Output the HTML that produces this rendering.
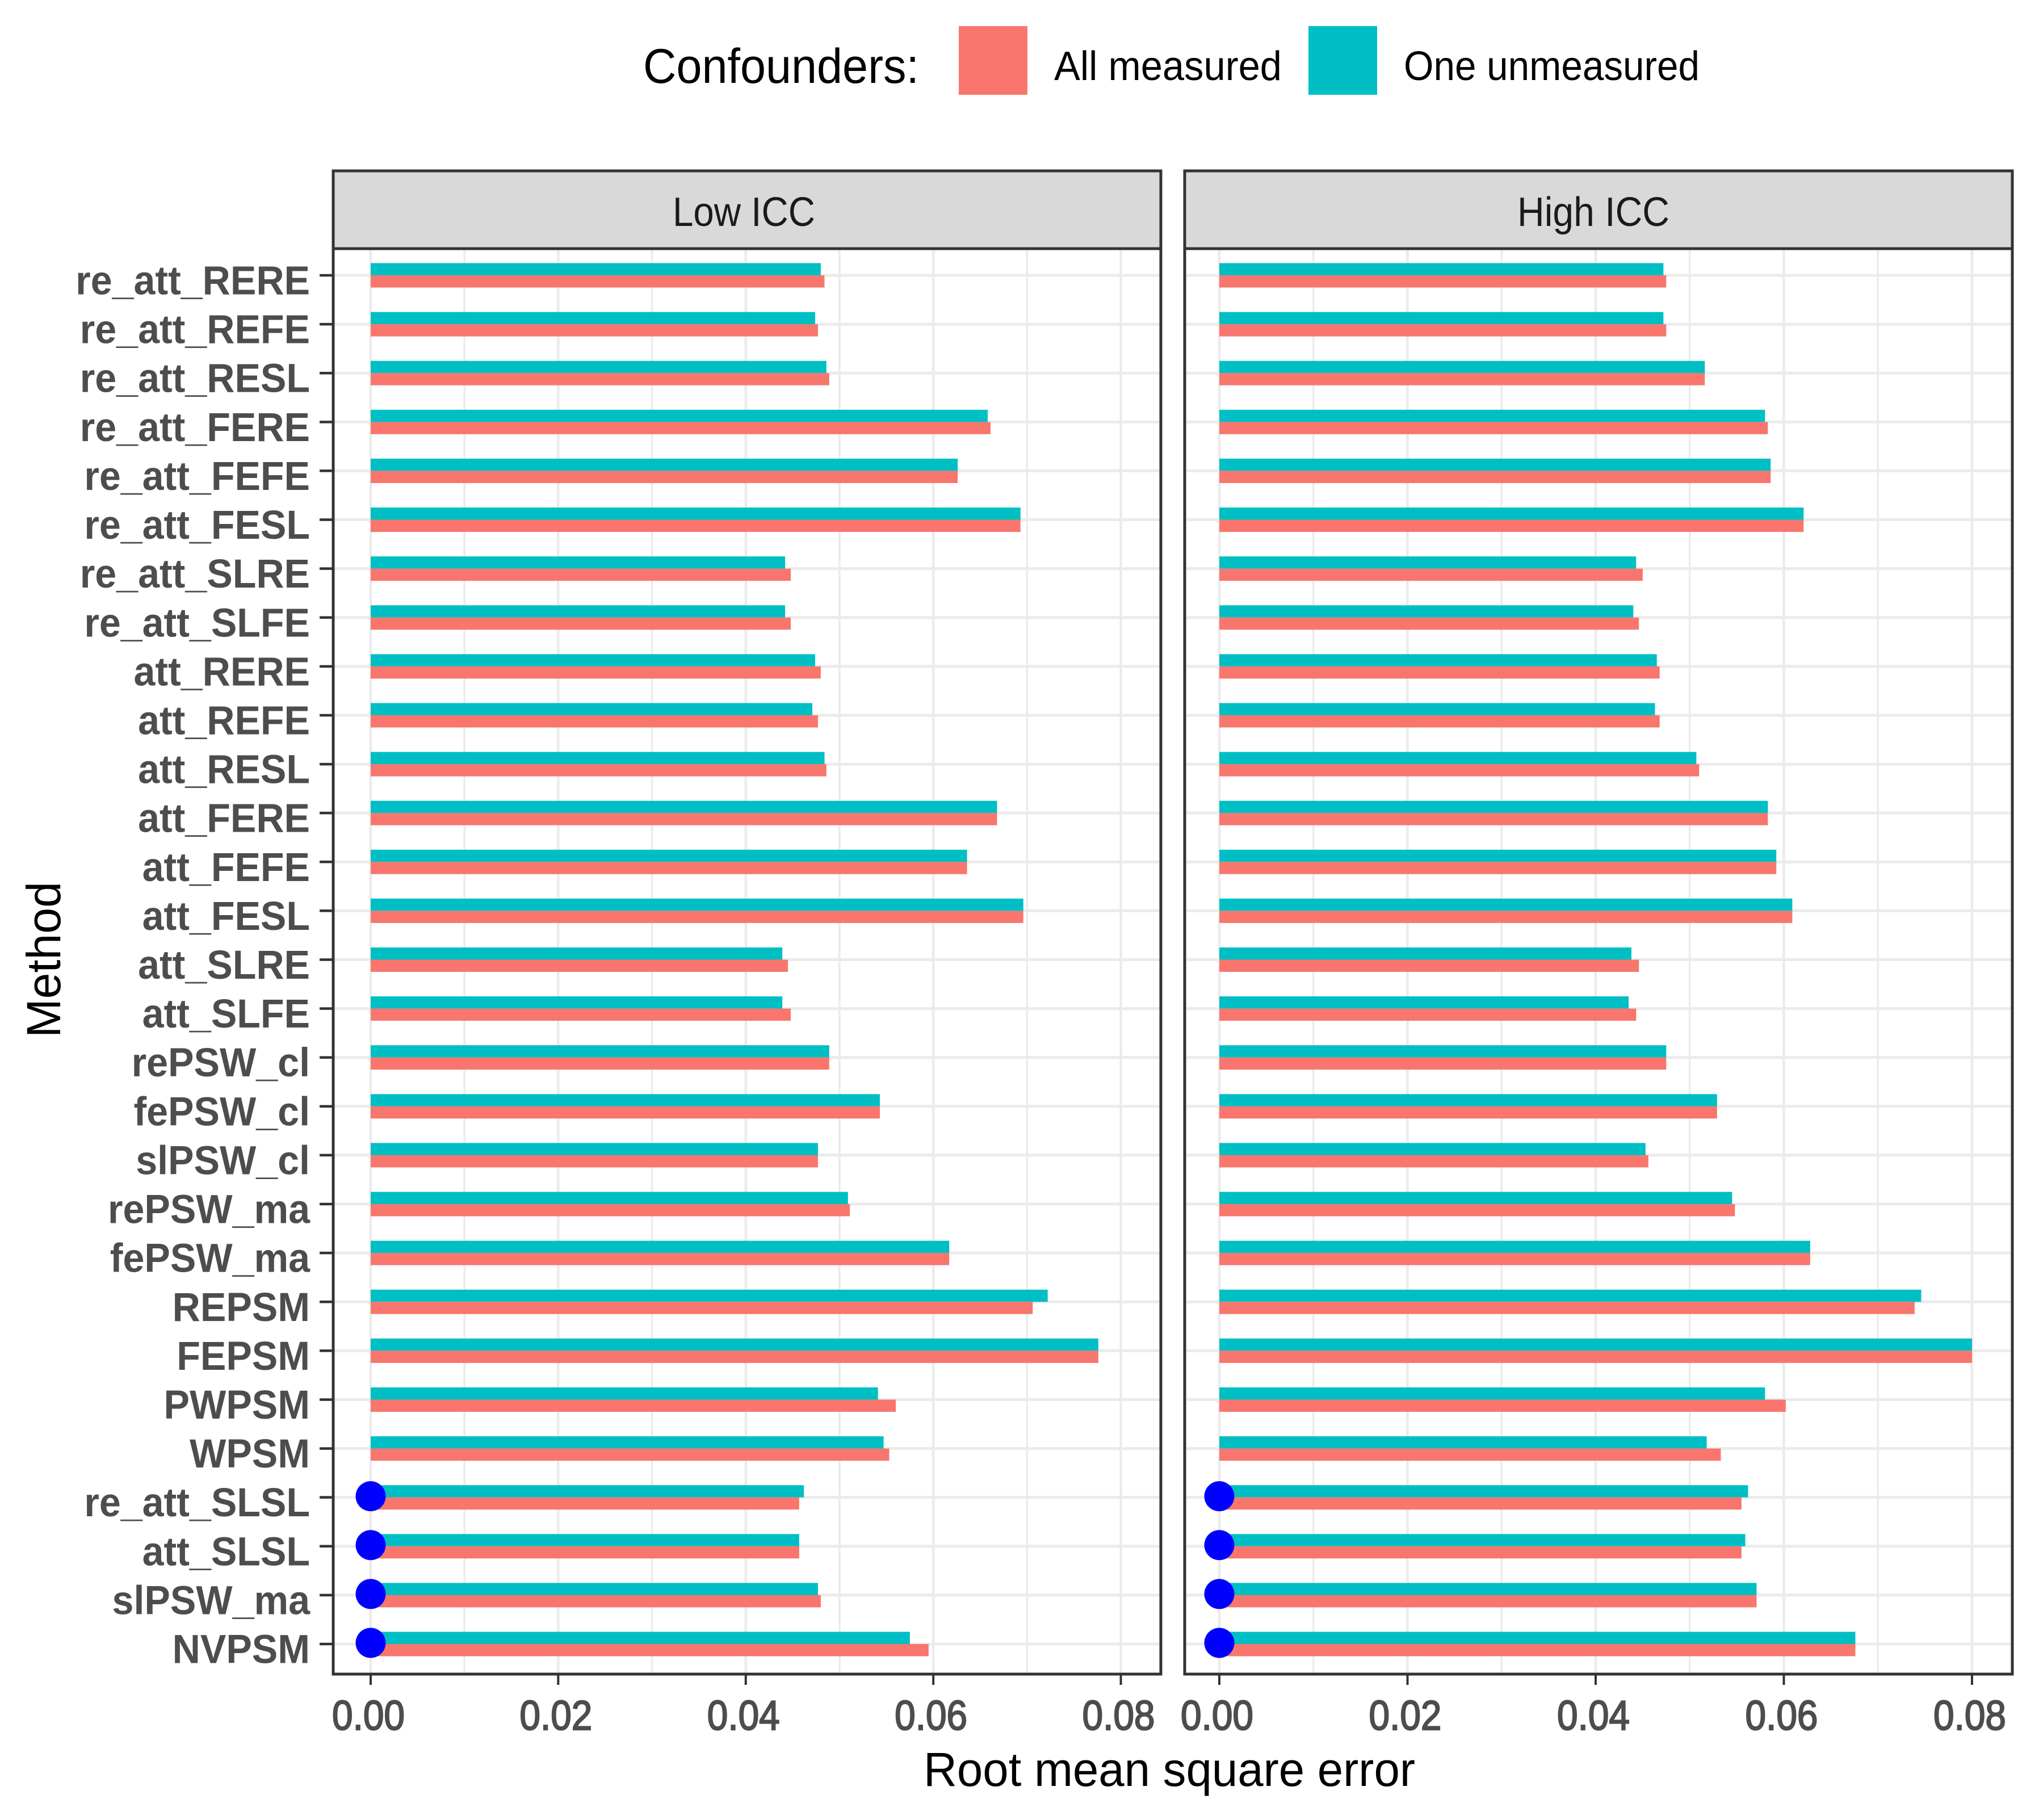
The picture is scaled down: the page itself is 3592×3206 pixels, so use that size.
<!DOCTYPE html>
<html>
<head>
<meta charset="utf-8">
<title>Root mean square error by method</title>
<style>
html,body{margin:0;padding:0;background:#fff;}
svg{display:block;}
text{font-family:"Liberation Sans",sans-serif;}
</style>
</head>
<body>
<svg id="chart" xmlns="http://www.w3.org/2000/svg" width="3592" height="3206" viewBox="0 0 3592 3206">
  <rect x="0" y="0" width="3592" height="3206" fill="#ffffff"/>
  <g>
    <text x="1133" y="146" font-size="86" fill="#000" textLength="486" lengthAdjust="spacingAndGlyphs">Confounders:</text>
    <rect x="1689" y="46" width="121" height="121" fill="#F8766D"/>
    <text x="1857" y="141" font-size="72" fill="#000" textLength="401" lengthAdjust="spacingAndGlyphs">All measured</text>
    <rect x="2305" y="46" width="121" height="121" fill="#00BFC4"/>
    <text x="2473" y="141" font-size="72" fill="#000" textLength="521" lengthAdjust="spacingAndGlyphs">One unmeasured</text>
  </g>
  <g id="panels"></g>
  <text x="1627" y="3146" font-size="84" fill="#000" textLength="866" lengthAdjust="spacingAndGlyphs">Root mean square error</text>
  <text transform="translate(106,1828) rotate(-90)" font-size="84" fill="#000" textLength="275" lengthAdjust="spacingAndGlyphs">Method</text>
</svg>
<script>
var categories = ["re_att_RERE","re_att_REFE","re_att_RESL","re_att_FERE","re_att_FEFE","re_att_FESL","re_att_SLRE","re_att_SLFE","att_RERE","att_REFE","att_RESL","att_FERE","att_FEFE","att_FESL","att_SLRE","att_SLFE","rePSW_cl","fePSW_cl","slPSW_cl","rePSW_ma","fePSW_ma","REPSM","FEPSM","PWPSM","WPSM","re_att_SLSL","att_SLSL","slPSW_ma","NVPSM"];
var lowOneUnmeasured = [.0480,.0474,.0486,.0658,.0626,.0693,.0442,.0442,.0474,.0471,.0484,.0668,.0636,.0696,.0439,.0439,.0489,.0543,.0477,.0509,.0617,.0722,.0776,.0541,.0547,.0462,.0457,.0477,.0575];
var lowAllMeasured = [.0484,.0477,.0489,.0661,.0626,.0693,.0448,.0448,.0480,.0477,.0486,.0668,.0636,.0696,.0445,.0448,.0489,.0543,.0477,.0511,.0617,.0706,.0776,.0560,.0553,.0457,.0457,.0480,.0595];
var highOneUnmeasured = [.0472,.0472,.0516,.0580,.0586,.0621,.0443,.0440,.0465,.0463,.0507,.0583,.0592,.0609,.0438,.0435,.0475,.0529,.0453,.0545,.0628,.0746,.0800,.0580,.0518,.0562,.0559,.0571,.0676];
var highAllMeasured = [.0475,.0475,.0516,.0583,.0586,.0621,.0450,.0446,.0468,.0468,.0510,.0583,.0592,.0609,.0446,.0443,.0475,.0529,.0456,.0548,.0628,.0739,.0800,.0602,.0533,.0555,.0555,.0571,.0676];
var markerCategories = ["re_att_SLSL","att_SLSL","slPSW_ma","NVPSM"];
var markerValues = [0,0,0,0];
var xTicks = [0,0.02,0.04,0.06,0.08];
var xTickLabels = ["0.00","0.02","0.04","0.06","0.08"];
var xMinorTicks = [0.01,0.03,0.05,0.07];
var panelTitles = ["Low ICC","High ICC"];

var NS = "http://www.w3.org/2000/svg";
var root = document.getElementById("panels");
var TOP_STRIP = 301, STRIP_BOTTOM = 438, PANEL_BOTTOM = 2949;
var ROW_FIRST = 485, ROW_STEP = (2896 - 485) / (categories.length - 1), BAR_H = 21.5;

function yScale(i){ return ROW_FIRST + ROW_STEP * i; }
function mk(tag, attrs, parent){
  var e = document.createElementNS(NS, tag);
  for (var k in attrs) e.setAttribute(k, attrs[k]);
  parent.appendChild(e);
  return e;
}

function drawPanel(key, left, right, x0, xUnit, teal, red, titleX, titleLen){
  function xScale(v){ return x0 + v * xUnit; }
  var g = mk("g", {}, root);
  
  

  xMinorTicks.forEach(function(v){
    var l = mk("line", {x1:xScale(v), x2:xScale(v), y1:STRIP_BOTTOM, y2:PANEL_BOTTOM, stroke:"#ebebeb", "stroke-width":3.5}, g);
    
    
  });
  xTicks.forEach(function(v){
    var l = mk("line", {x1:xScale(v), x2:xScale(v), y1:STRIP_BOTTOM, y2:PANEL_BOTTOM, stroke:"#ebebeb", "stroke-width":4.5}, g);
    
    
  });
  categories.forEach(function(c, i){
    var l = mk("line", {x1:left, x2:right, y1:yScale(i), y2:yScale(i), stroke:"#ebebeb", "stroke-width":5}, g);
    
    
  });

  categories.forEach(function(c, i){
    var y = yScale(i);
    var t = mk("rect", {x:xScale(0), y:y - BAR_H, width:xScale(teal[i]) - xScale(0), height:BAR_H, fill:"#00BFC4"}, g);
    
    
    var r = mk("rect", {x:xScale(0), y:y, width:xScale(red[i]) - xScale(0), height:BAR_H, fill:"#F8766D"}, g);
    
    
  });

  markerCategories.forEach(function(c, j){
    var i = categories.indexOf(c);
    var p = mk("circle", {cx:xScale(markerValues[j]), cy:yScale(i) - 2, r:26.5, fill:"#0000ff"}, g);
    
    
  });

  var border = mk("rect", {x:left, y:STRIP_BOTTOM, width:right - left, height:PANEL_BOTTOM - STRIP_BOTTOM, fill:"none", stroke:"#333333", "stroke-width":5}, g);
  
  

  var strip = mk("rect", {x:left, y:TOP_STRIP, width:right - left, height:STRIP_BOTTOM - TOP_STRIP, fill:"#d9d9d9", stroke:"#333333", "stroke-width":5}, g);
  
  

  var st = mk("text", {x:titleX, y:398, "font-size":72, fill:"#1a1a1a", textLength:titleLen, lengthAdjust:"spacingAndGlyphs"}, g);
  st.textContent = key === "low" ? panelTitles[0] : panelTitles[1];
  
  

  xTicks.forEach(function(v, k){
    var tk = mk("line", {x1:xScale(v), x2:xScale(v), y1:PANEL_BOTTOM, y2:PANEL_BOTTOM + 19, stroke:"#333333", "stroke-width":4}, g);
    
    
    var lb = mk("text", {x:xScale(v) - 68, y:3047, "font-size":73, fill:"#4d4d4d", stroke:"#4d4d4d", "stroke-width":2.2, textLength:128, lengthAdjust:"spacingAndGlyphs"}, g);
    lb.textContent = xTickLabels[k];
    
    
  });
}

drawPanel("low", 587, 2045, 653, 16519, lowOneUnmeasured, lowAllMeasured, 1185, 251);
drawPanel("high", 2087, 3545, 2148, 16575, highOneUnmeasured, highAllMeasured, 2673, 268);

categories.forEach(function(c, i){
  var y = yScale(i);
  var tk = mk("line", {x1:563, x2:587, y1:y, y2:y, stroke:"#333333", "stroke-width":4.5}, root);
  
  
  var lb = mk("text", {transform:"translate(546," + (y + 33.5) + ") scale(0.96,1)", "text-anchor":"end", "font-size":71, "font-weight":"bold", fill:"#4d4d4d"}, root);
  lb.textContent = c;
  
  
});
</script>
</body>
</html>
